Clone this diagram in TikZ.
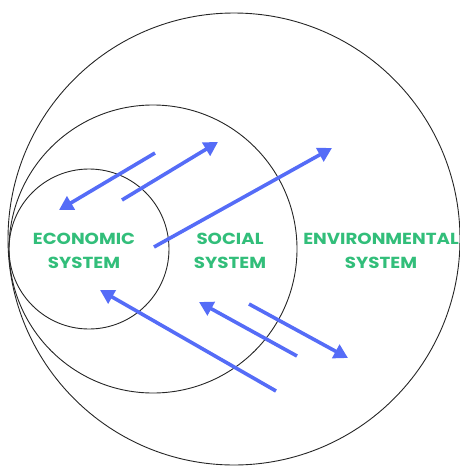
\documentclass[tikz,border=0pt]{standalone}
\usepackage{fontspec}
\newfontfamily\sysfont{Poppins}[FakeStretch=1.14]
\usetikzlibrary{arrows.meta}
\definecolor{flowblue}{RGB}{85,108,247}
\definecolor{sysgreen}{RGB}{50,190,122}

\begin{document}
\begin{tikzpicture}[x=1pt, y=-1pt,
	ring/.style={line width=0.9pt, black!85},
	flow/.style={line width=3.6pt, flowblue, -{Triangle[length=14pt, width=15pt]}},
	syslabel/.style={sysgreen, font=\sysfont\bfseries\fontsize{16}{24}\selectfont, align=center}]

						\useasboundingbox (0, 0) rectangle (459, 467);

						\coordinate(env) at (234, 239);
						\coordinate(soc) at (153, 249);
						\coordinate(eco) at (89, 249);

						\draw[ring] (env) circle[radius=226];
						\draw[ring] (soc) circle[radius=144];
						\draw[ring] (eco) circle[radius=80];

						\node[syslabel] (ecotext) at (84, 251) {ECONOMIC\\SYSTEM};
						\node[syslabel] (soctext) at (230, 251) {SOCIAL\\SYSTEM};
						\node[syslabel] (envtext) at (381, 251) {ENVIRONMENTAL\\SYSTEM};

						\coordinate(a) at (155, 153);
						\coordinate(b) at (59, 210);
						\coordinate(c) at (122, 200);
						\coordinate(d) at (218, 142);
						\coordinate(e) at (154, 247);
						\coordinate(f) at (332, 148);
						\coordinate(g) at (276, 391);
						\coordinate(h) at (100, 290);
						\coordinate(i) at (297, 356);
						\coordinate(j) at (199, 302);
						\coordinate(k) at (249, 304);
						\coordinate(l) at (348, 358);

						\draw[flow] (a)--(b);
						\draw[flow] (c)--(d);
						\draw[flow] (e)--(f);
						\draw[flow] (g)--(h);
						\draw[flow] (i)--(j);
						\draw[flow] (k)--(l);
					\end{tikzpicture}
\end{document}
